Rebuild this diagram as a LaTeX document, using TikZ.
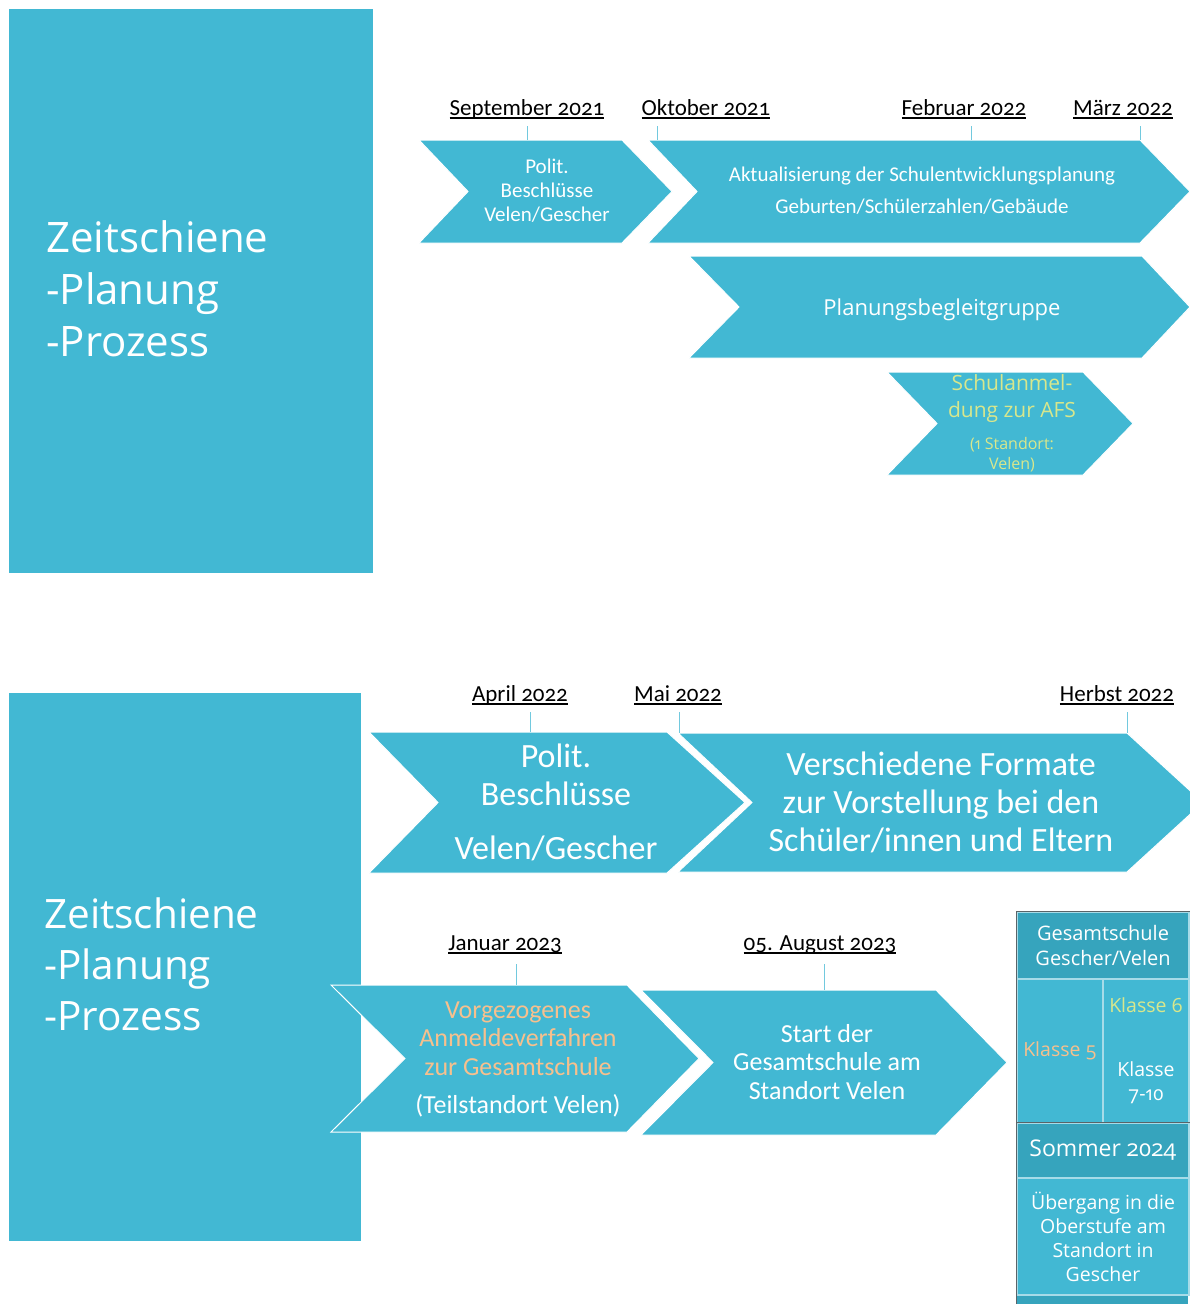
\documentclass[tikz,border=0pt]{standalone}
\usepackage{fontspec}
\setmainfont{Carlito}[Numbers=OldStyle]
\newfontfamily\titlefont{Open Sans}[Numbers=OldStyle]
\usepackage{tikz}
\usepackage{xcolor}
\definecolor{tealmain}{HTML}{42B8D3}
\definecolor{tealdark}{HTML}{36A4BD}
\definecolor{tickblue}{HTML}{72C9DE}
\definecolor{peach}{HTML}{F7C08D}
\definecolor{afsgreen}{HTML}{D8E78C}
\definecolor{cellline}{HTML}{A6DBE8}
\definecolor{edgegray}{HTML}{5A6468}
\newcommand{\datumline}[1]{\setbox0\hbox{#1}\rlap{\rule[-3.5pt]{\wd0}{1.2pt}}\box0}

\begin{document}
\begin{tikzpicture}[x=1pt, y=-1pt,
	panel/.style={fill=tealmain},
	chev/.style={fill=tealmain, draw=white, line width=1pt},
	chevtext/.style={text=white, align=center, inner sep=0pt},
	titletext/.style={anchor=base west, inner sep=0pt, text=white},
	datelabel/.style={anchor=base, inner sep=0pt, text=black, font=\fontsize{23}{27}\selectfont},
	tick/.style={draw=tickblue, line width=1pt},
	hcell/.style={fill=tealdark, draw=cellline, line width=1.5pt, text=white, align=center, inner sep=0pt, font=\titlefont\fontsize{20}{25}\selectfont},
	bcell/.style={fill=tealmain, draw=cellline, line width=1.5pt, text=white, align=center, inner sep=0pt, font=\titlefont\fontsize{19.5}{24}\selectfont},
	tableedge/.style={draw=edgegray, line width=1.2pt}]
	\fill[white] (0,0) rectangle (1190,1304);
	\clip (0,0) rectangle (1190,1304);

	% upper slide
	\fill[panel] (9,9) rectangle (373,573);
	\node (zsA1) [titletext, font=\titlefont\fontsize{42}{52}\selectfont] at (46,252.6) {Zeitschiene};
	\node (zsA2) [titletext, font=\titlefont\fontsize{42}{52}\selectfont] at (46,304.5) {-Planung};
	\node (zsA3) [titletext, font=\titlefont\fontsize{42}{52}\selectfont] at (46,356.5) {-Prozess};

	\node (dSep) [datelabel] at (527,115) {\datumline{September 2021}};
	\node (dOkt) [datelabel] at (706,115) {\datumline{Oktober 2021}};
	\node (dFeb) [datelabel] at (964,115) {\datumline{Februar 2022}};
	\node (dMar) [datelabel] at (1123,115) {\datumline{März 2022}};

	\draw[chev] (419,140) -- (622,140) -- (672,191.5) -- (622,243) -- (419,243) -- (468,191.5) -- cycle;
	\draw[chev] (648,140) -- (1140,140) -- (1190,191.5) -- (1140,243) -- (648,243) -- (697,191.5) -- cycle;
	\draw[chev] (689,256) -- (1142,256) -- (1190,307) -- (1142,358) -- (689,358) -- (739,307) -- cycle;
	\draw[chev] (887,372) -- (1083,372) -- (1133,423.5) -- (1083,475) -- (887,475) -- (937,423.5) -- cycle;

	\coordinate (kSep) at (527,140);
	\coordinate (kOkt) at (657,140);
	\coordinate (kFeb) at (971,140);
	\coordinate (kMar) at (1140,140);
	\draw[tick] ([yshift=-11pt]dSep.base -| kSep) -- (kSep);
	\draw[tick] ([yshift=-11pt]dOkt.base -| kOkt) -- (kOkt);
	\draw[tick] ([yshift=-11pt]dFeb.base -| kFeb) -- (kFeb);
	\draw[tick] ([yshift=-11pt]dMar.base -| kMar) -- (kMar);

	\node (polA) [chevtext, font=\fontsize{21}{24}\selectfont] at (547,191) {Polit.\\Beschlüsse\\Velen/Gescher};
	\node (sep) [chevtext, font=\fontsize{21}{32}\selectfont] at (922,191) {Aktualisierung der Schulentwicklungsplanung\\Geburten/Schülerzahlen/Gebäude};
	\node (pbg) [chevtext, font=\titlefont\fontsize{22}{28}\selectfont] at (942,310) {Planungsbegleitgruppe};
	\node (afs) [chevtext, text=afsgreen, font=\titlefont\fontsize{21}{27}\selectfont] at (1012,399) {Schulanmel-\\dung zur AFS};
	\node (afsOrt) [chevtext, text=afsgreen, font=\titlefont\fontsize{16}{20}\selectfont] at (1012,455) {(1 Standort:\\Velen)};

	% lower slide
	\fill[panel] (9,693) rectangle (361,1241);
	\node (zsB1) [titletext, font=\titlefont\fontsize{40.5}{51}\selectfont] at (44,928.6) {Zeitschiene};
	\node (zsB2) [titletext, font=\titlefont\fontsize{40.5}{51}\selectfont] at (44,979.7) {-Planung};
	\node (zsB3) [titletext, font=\titlefont\fontsize{40.5}{51}\selectfont] at (44,1030.7) {-Prozess};

	\node (dApr) [datelabel] at (520,701) {\datumline{April 2022}};
	\node (dMai) [datelabel] at (678,701) {\datumline{Mai 2022}};
	\node (dHer) [datelabel] at (1117,701) {\datumline{Herbst 2022}};
	\node (dJan) [datelabel] at (505,950) {\datumline{Januar 2023}};
	\node (dAug) [datelabel] at (820,950) {\datumline{05. August 2023}};

	\draw[chev] (369,732) -- (667,732) -- (745,802.5) -- (667,873) -- (369,873) -- (438,802.5) -- cycle;
	\draw[chev] (678,733) -- (1127,733) -- (1203,802.5) -- (1127,872) -- (678,872) -- (752,802.5) -- cycle;
	\draw[chev] (331,985) -- (627,985) -- (699,1058.5) -- (627,1132) -- (331,1132) -- (405,1058.5) -- cycle;
	\draw[chev] (641,990) -- (936,990) -- (1007,1062.5) -- (936,1135) -- (641,1135) -- (713,1062.5) -- cycle;

	\coordinate (kApr) at (530,732);
	\coordinate (kMai) at (679,733);
	\coordinate (kHer) at (1127,733);
	\coordinate (kJan) at (516,985);
	\coordinate (kAug) at (824,990);
	\draw[tick] ([yshift=-11pt]dApr.base -| kApr) -- (kApr);
	\draw[tick] ([yshift=-11pt]dMai.base -| kMai) -- (kMai);
	\draw[tick] ([yshift=-11pt]dHer.base -| kHer) -- (kHer);
	\draw[tick] ([yshift=-14pt]dJan.base -| kJan) -- (kJan);
	\draw[tick] ([yshift=-14pt]dAug.base -| kAug) -- (kAug);

	\node (polB) [chevtext, font=\fontsize{34}{38}\selectfont] at (556,802) {Polit.\\Beschlüsse\\[16pt]Velen/Gescher};
	\node (form) [chevtext, font=\fontsize{34}{38}\selectfont] at (941,802) {Verschiedene Formate\\zur Vorstellung bei den\\Schüler/innen und Eltern};
	\node (anm) [chevtext, text=peach, font=\fontsize{26}{28.5}\selectfont] at (518,1059.5) {Vorgezogenes\\Anmeldeverfahren\\zur Gesamtschule\\[10pt]\textcolor{white}{(Teilstandort Velen)}};
	\node (start) [chevtext, font=\fontsize{26}{28.5}\selectfont] at (827,1062) {Start der\\Gesamtschule am\\Standort Velen};

	% table on the right
	\node (gsKopf) [hcell, minimum width=172pt, minimum height=67pt] at (1103,945.5) {Gesamtschule\\Gescher/Velen};
	\node (kl5) [bcell, minimum width=86pt, minimum height=144pt, text=peach] at (1060,1051) {Klasse 5};
	\node (kl6) [bcell, minimum width=86pt, minimum height=144pt] at (1146,1051) {\textcolor{afsgreen}{Klasse 6}\\[40pt]Klasse\\7-10};
	\node (som) [hcell, minimum width=172pt, minimum height=55pt, font=\titlefont\fontsize{23}{27}\selectfont] at (1103,1150.5) {Sommer 2024};
	\node (ueb) [bcell, minimum width=172pt, minimum height=117pt] at (1103,1236.5) {Übergang in die\\Oberstufe am\\Standort in\\Gescher};
	\fill[tealdark] (ueb.south west) rectangle ++(172,12);
	\draw[tableedge] (gsKopf.north west) -- (gsKopf.north east);
	\draw[tableedge] (som.north west) -- (som.north east);
	\draw[tableedge] (gsKopf.north west) -- (ueb.south west) -- ++(0,12);
\end{tikzpicture}
\end{document}
